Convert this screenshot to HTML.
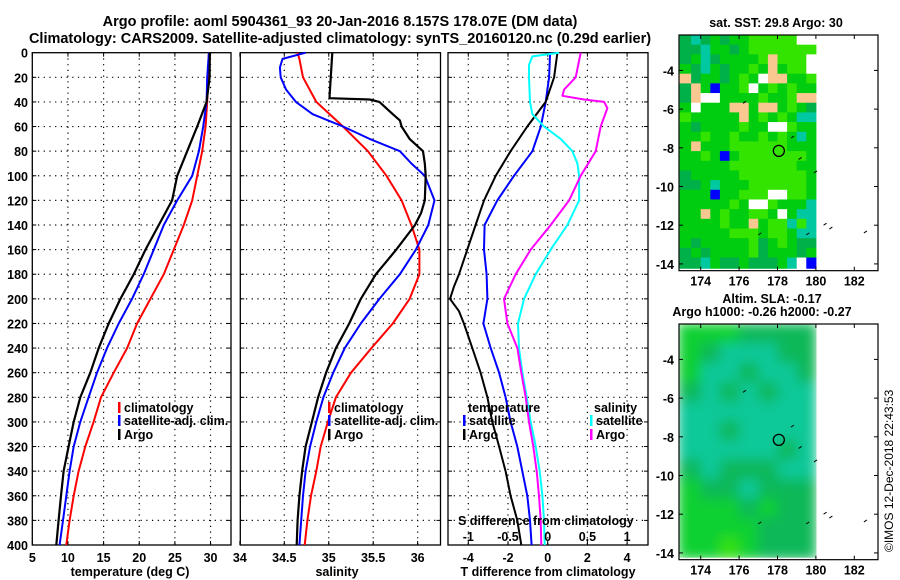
<!DOCTYPE html>
<html><head><meta charset="utf-8"><style>
html,body{margin:0;padding:0;background:#fff}
svg{display:block}
text{font-family:"Liberation Sans",sans-serif;font-weight:bold;fill:#000}
</style></head><body>
<svg id="c" width="900" height="580" viewBox="0 0 900 580" xmlns="http://www.w3.org/2000/svg">
<text x="340" y="26" font-size="14.5" text-anchor="middle">Argo profile: aoml 5904361_93 20-Jan-2016 8.157S 178.07E (DM data)</text>
<text x="340" y="43" font-size="14.5" text-anchor="middle">Climatology: CARS2009. Satellite-adjusted climatology: synTS_20160120.nc (0.29d earlier)</text>
<g id="p1"></g>
<g id="p2"></g>
<g id="p3"></g>
<g id="m1"></g>
<g id="m2"></g>
<text transform="translate(893,552) rotate(-90)" font-size="12" style="font-weight:normal">©IMOS 12-Dec-2018 22:43:53</text>
</svg>
<script>
// ---- data ----
const depth20 = [0,20,40,60,80,100,120,140,160,180,200,220,240,260,280,300,320,340,360,380,400];
const tempClim = [29.77,29.67,29.53,29.3,28.83,28.13,27.42,26.25,24.85,23.44,21.57,19.7,18.29,16.42,14.64,13.6,12.44,11.5,10.8,10.23,9.77];
const tempSat  = [29.77,29.53,29.44,28.97,28.36,27.42,25.32,23.44,22.04,20.63,18.99,17.12,15.48,14.07,12.9,11.73,10.8,10.23,9.77,9.3,8.83];
const tempArgo = [29.9,29.86,29.44,28.13,26.72,25.32,24.61,22.74,20.87,19.23,17.35,15.71,14.31,13.14,11.73,10.8,10.09,9.39,9.02,8.69,8.36];
const salClimDepth = [0,5,20,40,60,80,100,120,140,160,180,200,220,240,260,280,300,320,340,360,380,400];
const salClim = [34.65,34.67,34.71,34.86,35.16,35.44,35.65,35.82,35.93,36.02,36.02,35.91,35.72,35.48,35.25,35.08,34.99,34.91,34.86,34.80,34.76,34.73];
const salSatDepth = [0,5,12,20,30,40,50,60,70,80,90,100,120,140,160,180,200,220,240,260,280,300,320,340,360,380,400];
const salSat = [34.74,34.48,34.45,34.46,34.52,34.63,34.82,35.16,35.46,35.80,35.93,36.08,36.19,36.12,35.98,35.80,35.57,35.36,35.18,35.05,34.94,34.86,34.79,34.74,34.71,34.69,34.67];
const salArgoDepth = [0,35,37,38,40,50,55,60,70,80,90,100,120,130,140,160,180,200,220,240,260,280,300,320,340,360,380,400];
const salArgo = [35.04,35.01,35.01,35.46,35.57,35.72,35.80,35.82,35.91,36.06,36.08,36.09,36.08,36.04,35.97,35.76,35.53,35.36,35.23,35.08,34.97,34.88,34.81,34.74,34.70,34.67,34.65,34.64];
const dTSat  = [0.12,0.07,-0.1,-0.35,-0.77,-1.70,-2.54,-3.18,-3.21,-3.08,-3.04,-3.24,-2.87,-2.45,-2.12,-1.87,-1.53,-1.28,-1.03,-0.89,-0.81];
const dTArgoDepth = [0,20,40,60,80,100,120,140,160,180,190,200,210,220,240,260,280,300,320,340,360,380,400];
const dTArgo = [0.49,0.32,-0.1,-1.03,-1.87,-2.62,-3.21,-3.63,-4.05,-4.47,-4.72,-4.92,-4.47,-4.22,-3.80,-3.38,-3.04,-2.79,-2.45,-2.12,-1.87,-1.53,-1.33];
const dSSatDepth = [0,3,10,20,40,50,60,70,80,90,100,120,140,160,180,200,220,240,260,280,300,320,340,360,380,400];
const dSSat = [0.143,-0.193,-0.235,-0.235,-0.223,-0.193,-0.046,0.164,0.311,0.374,0.395,0.395,0.248,0.038,-0.151,-0.298,-0.374,-0.361,-0.319,-0.265,-0.214,-0.151,-0.101,-0.067,-0.046,-0.038];
const dSArgoDepth = [0,20,30,35,38,40,45,60,80,100,120,140,160,180,200,220,240,260,280,300,320,340,360,380,400];
const dSArgo = [0.416,0.353,0.206,0.185,0.458,0.71,0.752,0.668,0.605,0.416,0.269,0.038,-0.214,-0.403,-0.55,-0.508,-0.382,-0.332,-0.277,-0.235,-0.181,-0.139,-0.109,-0.088,-0.080];
const depthTicks = [0,20,40,60,80,100,120,140,160,180,200,220,240,260,280,300,320,340,360,380,400];
const tempTicks = [5,10,15,20,25,30];
const salTicks = [34,34.5,35,35.5,36];
const salTickLabels = ["34","34.5","35","35.5","36"];
const dTTicks = [-4,-2,0,2,4];
const dSTicks = [-1,-0.5,0,0.5,1];
const dSTickLabels = ["-1","-0.5","0","0.5","1"];
const lonTicks = [174,176,178,180,182];
const latTicks = [-4,-6,-8,-10,-12,-14];
// SST map codes (0.5 deg cells, lon 173->180, lat -2.2 downward)
const sstRows = [
"dtdgdgglllllww","ddtggdglllllll","dgtdgggglplllw","gdtgdgglgpgllw",
"pdggdglgwppggl","dpgbgglwglglgg","dpwwgggglgglpp","gwgggppgppglgd",
"lgggggpglglgtt","gdgggglggwwlgg","gglgglgglglgtg","gpgggllllllggg",
"gglgbglllllllg","ggggglllllllgg","dggggglllllllg","ddgtgggllllllg",
"gggbgglllwwllg","ggggglgwwlgggt","ggpglggllgwgtt","gggglggpglltlt",
"ggggglllgllgtt","gdgggggldglgdd","dgdggggldgggdg","ddtgddgdddgtwb"];
// SLA map codes (1 deg cells, 7 columns 173->180)
const slaRows = ["gggdddd","gdtttdd","gttdttd","dtdtdtt","ttttttt","ttdtttt","tttttdt","dtdddtt","gddtddd","gggdgdd","ggggddd","gglgddd"];
const sstColors = {g:"#00cc10",l:"#33e400",d:"#00b048",t:"#00c8a0",p:"#f8c890",w:"#ffffff",b:"#0000ff"};
const slaColors = {g:"#10d030",l:"#30e010",d:"#10b858",t:"#10c898"};
const argoLon = 178.07, argoLat = -8.157;

// ---- helpers ----
const NS="http://www.w3.org/2000/svg";
function mk(parent,tag,attrs){const e=document.createElementNS(NS,tag);for(const k in attrs)e.setAttribute(k,attrs[k]);parent.appendChild(e);return e;}
const Y0=52.7, Y1=545;
const yD = d => Y0 + d*(Y1-Y0)/400;

function panel(g,x0,x1,vgrid,xticks,xlabels,xfun,title,titleX,showY){
  for(const v of vgrid){const x=xfun(v);const l=mk(g,'line',{x1:x,x2:x,y1:Y0,y2:Y1,stroke:'#000','stroke-width':1.2,'stroke-dasharray':'1.2,4.5'});
    }
  for(let i=1;i<depthTicks.length-1;i++){const y=yD(depthTicks[i]);const l=mk(g,'line',{x1:x0,x2:x1,y1:y,y2:y,stroke:'#000','stroke-width':1.2,'stroke-dasharray':'1.2,4.5'});
    
    mk(g,'line',{x1:x0,x2:x0+4,y1:y,y2:y,stroke:'#000'});mk(g,'line',{x1:x1-4,x2:x1,y1:y,y2:y,stroke:'#000'});}
  const b=mk(g,'rect',{x:x0,y:Y0,width:x1-x0,height:Y1-Y0,fill:'none',stroke:'#000','stroke-width':1.3});
  
  xticks.forEach((v,i)=>{const x=xfun(v);mk(g,'line',{x1:x,x2:x,y1:Y1-4,y2:Y1,stroke:'#000'});mk(g,'line',{x1:x,x2:x,y1:Y0,y2:Y0+4,stroke:'#000'});
    if(xlabels){const t=mk(g,'text',{x:x,y:562,'font-size':12.5,'text-anchor':'middle'});t.textContent=xlabels[i];
    }});
  if(title){const t=mk(g,'text',{x:titleX,y:576,'font-size':12.5,'text-anchor':'middle'});t.textContent=title;
    }
  if(showY){depthTicks.forEach(d=>{const t=mk(g,'text',{x:28,y:yD(d)+5,'font-size':12.5,'text-anchor':'end'});t.textContent=String(d);
    });}
}
function series(g,depths,vals,xfun,color,name,w){
  const pts=vals.map((v,i)=>xfun(v).toFixed(1)+','+yD(depths[i]).toFixed(1)).join(' ');
  const p=mk(g,'polyline',{points:pts,fill:'none',stroke:color,'stroke-width':w||2,'stroke-linejoin':'round'});
  
}
function legend(g,x,y,color,label,name){
  if(color){mk(g,'rect',{x:x,y:y-10,width:2.5,height:11,fill:color});}
  const t=mk(g,'text',{x:x+(color?6:0),y:y,'font-size':12.5});t.textContent=label;
  
}

// panel 1
const xT = t => 32.3 + (t-5)*7.13;
const p1=document.getElementById('p1');
panel(p1,32.3,231,[10,15,20,25,30],tempTicks,tempTicks.map(String),xT,'temperature (deg C)',130,true);
series(p1,depth20,tempClim,xT,'#ff0000','temp-climatology-line');
series(p1,depth20,tempSat,xT,'#0000ff','temp-satellite-line');
series(p1,depth20,tempArgo,xT,'#000000','temp-argo-line',2.2);
legend(p1,118,412,'#ff0000','climatology','legend-climatology');
legend(p1,118,425,'#0000ff','satellite-adj. clim.','legend-satellite');
legend(p1,118,439,'#000000','Argo','legend-argo');

// panel 2
const xS = s => 284.3 + (s-34.5)*88.9;
const p2=document.getElementById('p2');
panel(p2,240.3,440.5,[34.5,35,35.5,36],salTicks,salTickLabels,xS,'salinity',337,false);
series(p2,salClimDepth,salClim,xS,'#ff0000','sal-climatology-line');
series(p2,salSatDepth,salSat,xS,'#0000ff','sal-satellite-line');
series(p2,salArgoDepth,salArgo,xS,'#000000','sal-argo-line',2.2);
legend(p2,328,412,'#ff0000','climatology','legend-climatology');
legend(p2,328,425,'#0000ff','satellite-adj. clim.','legend-satellite');
legend(p2,328,439,'#000000','Argo','legend-argo');

// panel 3
const xdT = t => 547.7 + 19.85*t;
const xdS = s => 547.7 + 79.4*s;
const p3=document.getElementById('p3');
panel(p3,448,648,[-4,-2,0,2,4],dTTicks,dTTicks.map(String),xdT,'T difference from climatology',548,false);
series(p3,depth20,dTSat,xdT,'#0000ff','dT-satellite-line');
series(p3,dTArgoDepth,dTArgo,xdT,'#000000','dT-argo-line');
series(p3,dSSatDepth,dSSat,xdS,'#00ffff','dS-satellite-line');
series(p3,dSArgoDepth,dSArgo,xdS,'#ff00ff','dS-argo-line');
legend(p3,468,412,null,'temperature','legend-temperature-heading');
legend(p3,463,425,'#0000ff','satellite','legend-t-satellite');
legend(p3,463,439,'#000000','Argo','legend-t-argo');
legend(p3,594,412,null,'salinity','legend-salinity-heading');
legend(p3,590,425,'#00ffff','satellite','legend-s-satellite');
legend(p3,590,439,'#ff00ff','Argo','legend-s-argo');
{const t=mk(p3,'text',{x:458,y:525,'font-size':12.5});t.textContent='S difference from climatology';
 
 dSTicks.forEach((s,i)=>{const u=mk(p3,'text',{x:xdS(s),y:541,'font-size':12.5,'text-anchor':'middle'});u.textContent=dSTickLabels[i];
 });}

// maps
const svg=document.getElementById('c');
const defs=mk(svg,'defs',{});
const f=mk(defs,'filter',{id:'bl',x:'0',y:'0',width:'1',height:'1'});
mk(f,'feGaussianBlur',{stdDeviation:6,edgeMode:'duplicate'});
function map(g,top,rows,colors,cell,titles,blur){
  const lx = lon => 681.5 + (lon-173)*19.2;
  const ly = lat => top + (-2.17-lat)*19.35;
  const clipId='clip'+top;
  const cp=mk(defs,'clipPath',{id:clipId});mk(cp,'rect',{x:679.6,y:ly(-2.17),width:lx(180.05)-679.6,height:ly(-14.25)-ly(-2.17)});
  const cg=mk(g,'g',{'clip-path':'url(#'+clipId+')'});
  
  const inner=mk(cg,'g',blur?{filter:'url(#bl)'}:{});
  const nr=rows.length;
  rows.forEach((row,r)=>{for(let c=0;c<row.length;c++){const lon=173+c*cell, lat=-2.17-r*cell;
    let x=lx(lon),y=ly(lat),x2=lx(lon+cell),y2=ly(lat-cell);
    if(c==0)x=678; if(r==0)y-=1; if(r==nr-1)y2+=3;
    const e=mk(inner,'rect',{x:x,y:y,width:x2-x+0.5,height:y2-y+0.5,fill:colors[row[c]]});
    }});
  const bottom=ly(-14.35);
  const fr=mk(g,'rect',{x:679,y:ly(-2.17),width:199,height:bottom-ly(-2.17),fill:'none',stroke:'#000','stroke-width':1.2});
  
  lonTicks.forEach(l=>{const x=lx(l);mk(g,'line',{x1:x,x2:x,y1:ly(-2.17),y2:ly(-2.17)+4,stroke:'#000'});mk(g,'line',{x1:x,x2:x,y1:bottom-4,y2:bottom,stroke:'#000'});
    const t=mk(g,'text',{x:x,y:bottom+15,'font-size':12.5,'text-anchor':'middle'});t.textContent=String(l);
    });
  latTicks.forEach(l=>{const y=ly(l);mk(g,'line',{x1:679,x2:683,y1:y,y2:y,stroke:'#000'});mk(g,'line',{x1:874,x2:878,y1:y,y2:y,stroke:'#000'});
    const t=mk(g,'text',{x:674,y:y+5,'font-size':12.5,'text-anchor':'end'});t.textContent=String(l);
    });
  const c=mk(g,'circle',{cx:lx(argoLon),cy:ly(argoLat),r:5.5,fill:'none',stroke:'#000','stroke-width':1.3});
  
  [[180.4,-12],[180.7,-12.2],[182.5,-12.4],[177,-12.5],[179.5,-12.5],[178.7,-7.5],[179.1,-8.6],[179.9,-9.3],[176.2,-5.7]].forEach(p=>{mk(g,'line',{x1:lx(p[0]),y1:ly(p[1]),x2:lx(p[0])+3,y2:ly(p[1])-2,stroke:'#000','stroke-width':1});});
  titles.forEach((tt,i)=>{const t=mk(g,'text',{x:tt[1],y:tt[2],'font-size':12.5,'text-anchor':'middle'});t.textContent=tt[0];
    });
}
map(document.getElementById('m1'),35,sstRows,sstColors,0.5,[['sat. SST: 29.8 Argo: 30',776,27]],false);
map(document.getElementById('m2'),324,slaRows,slaColors,1,[['Altim. SLA: -0.17',772,303],['Argo h1000: -0.26 h2000: -0.27',762,316]],true);
</script>
</body></html>
